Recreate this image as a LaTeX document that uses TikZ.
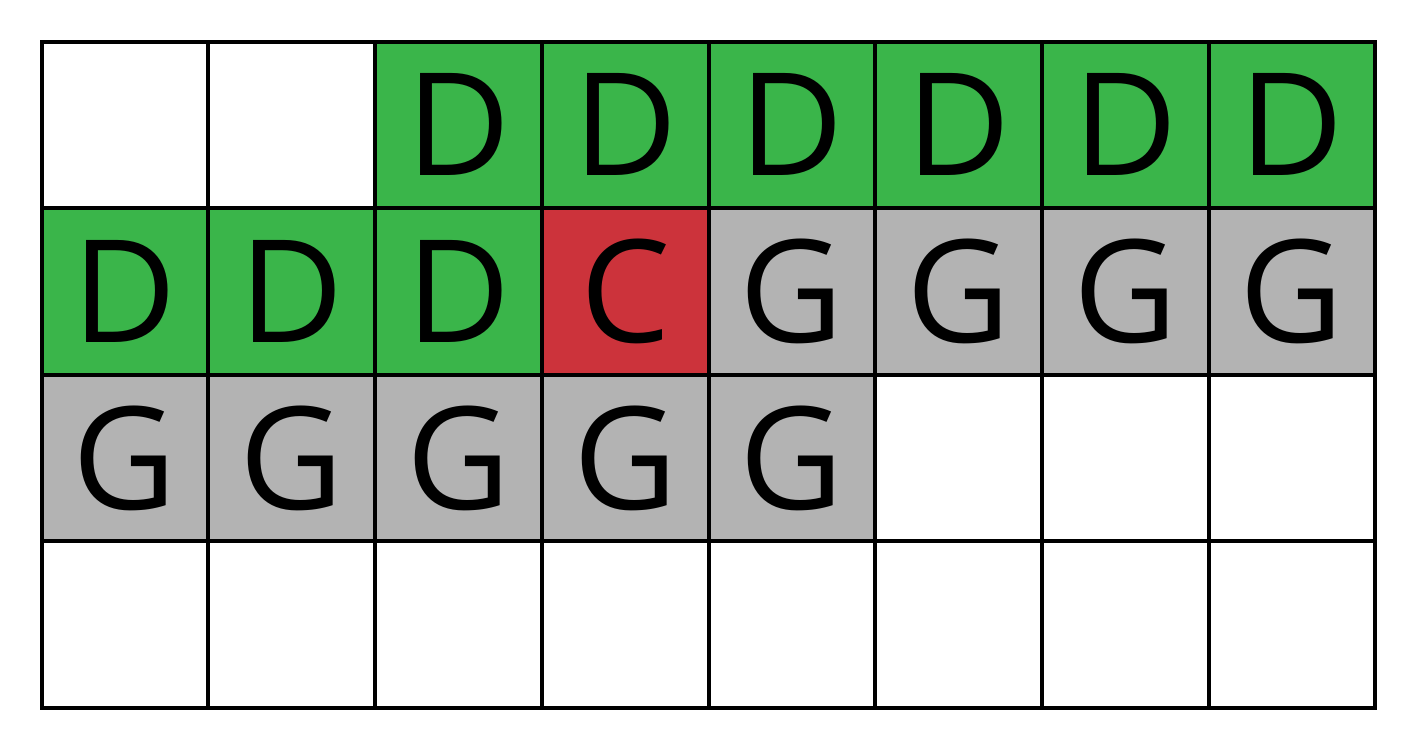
\documentclass[tikz,border=0pt]{standalone}
\usepackage{fontspec}
\setmainfont{Open Sans}
\definecolor{cgreen}{HTML}{3AB54A}
\definecolor{cred}{HTML}{CC333B}
\definecolor{cgray}{HTML}{B3B3B3}
\begin{document}
\begin{tikzpicture}[x=1pt,y=1pt,
  cell/.style={draw=black,line width=4pt,minimum width=166.7pt,minimum height=166.6pt,inner sep=0pt,
    text height=102pt,text depth=0pt,font=\fontsize{143}{143}\selectfont},
  gd/.style={cell,fill=cgreen},
  rc/.style={cell,fill=cred},
  gg/.style={cell,fill=cgray},
  ww/.style={cell,fill=white}]
\useasboundingbox (0,0) rectangle (1417,750);
\def\cx#1{41.7+166.7*#1+83.35}
\def\cy#1{750-41.7-166.6*#1-83.3}
% row 0
\foreach \i/\s/\t in {0/ww/,1/ww/,2/gd/D,3/gd/D,4/gd/D,5/gd/D,6/gd/D,7/gd/D}
  \node[\s] (a\i) at ({\cx{\i}},{\cy{0}}) {\t};
\foreach \i/\s/\t in {0/gd/D,1/gd/D,2/gd/D,3/rc/C,4/gg/G,5/gg/G,6/gg/G,7/gg/G}
  \node[\s] (b\i) at ({\cx{\i}},{\cy{1}}) {\t};
\foreach \i/\s/\t in {0/gg/G,1/gg/G,2/gg/G,3/gg/G,4/gg/G,5/ww/,6/ww/,7/ww/}
  \node[\s] (c\i) at ({\cx{\i}},{\cy{2}}) {\t};
\foreach \i in {0,...,7}
  \node[ww] (d\i) at ({\cx{\i}},{\cy{3}}) {};
\end{tikzpicture}
\end{document}
